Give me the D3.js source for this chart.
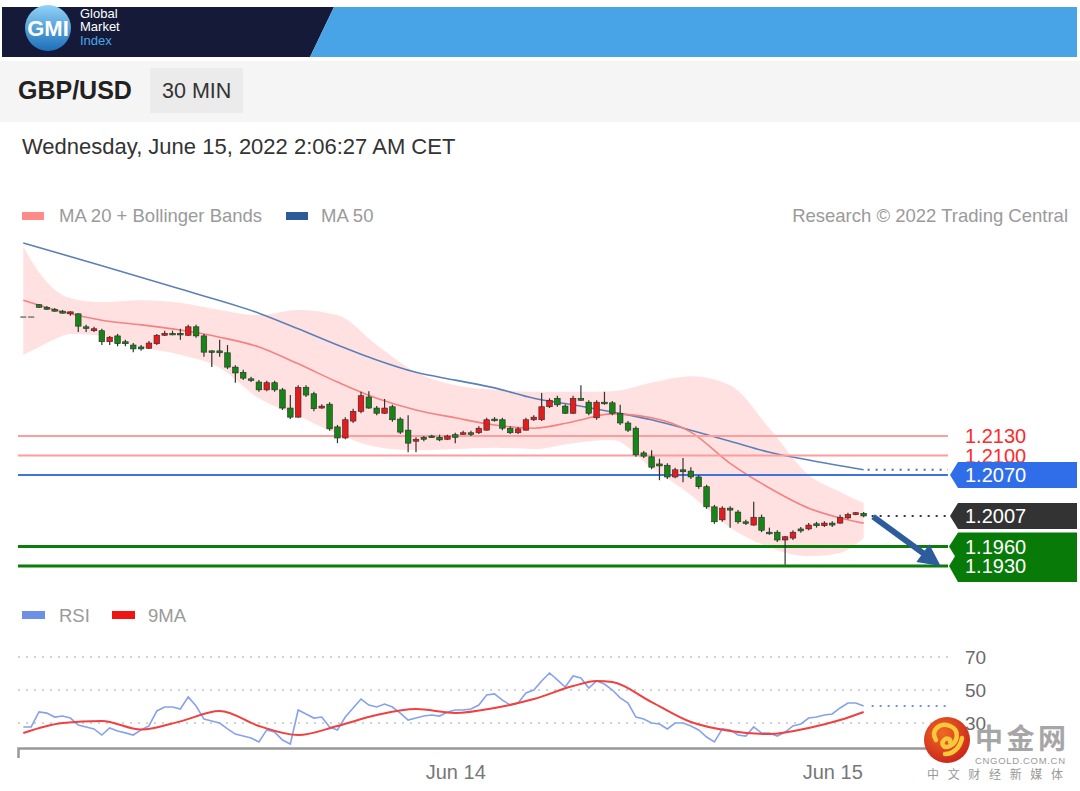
<!DOCTYPE html>
<html><head><meta charset="utf-8">
<script src="https://cdn.jsdelivr.net/npm/d3@7"></script>
<style>
body{margin:0;background:#fff;}
svg{display:block;font-family:"Liberation Sans",Arial,sans-serif;}
</style></head><body>
<svg id="c" width="1080" height="791"></svg>
<script>
// ---------- DATA ----------
const candleOpen = [1.2313,1.2313,
1.2332,1.2328,1.2325,1.2322,1.2318,1.2318,1.2298,1.2292,1.2292,1.2275,
1.2284,1.2275,1.2270,1.2267,1.2265,1.2272,1.2285,1.2288,1.2288,1.2285,
1.2298,1.2284,1.2261,1.2261,1.2258,1.2236,1.2228,1.2218,1.2213,1.2201,
1.2212,1.2201,1.2173,1.2159,1.2205,1.2195,1.2173,1.2179,1.2144,1.2127,
1.2153,1.2168,1.2190,1.2173,1.2165,1.2175,1.2156,1.2139,1.2122,1.2128,
1.2130,1.2128,1.2125,1.2132,1.2133,1.2135,1.2135,1.2139,1.2156,1.2155,
1.2142,1.2135,1.2139,1.2155,1.2155,1.2175,1.2188,1.2176,1.2165,1.2188,
1.2182,1.2158,1.2182,1.2181,1.2165,1.2150,1.2142,1.2104,1.2098,1.2087,
1.2085,1.2067,1.2078,1.2076,1.2067,1.2052,1.2021,1.2001,1.2019,1.2013,
1.1998,1.1993,1.2005,1.1982,1.1982,1.1970,1.1973,1.1987,1.1987,1.1995,
1.1992,1.1996,1.1996,1.2004,1.2009,1.2011];
const candleClose = [1.2313,1.2313,
1.2328,1.2325,1.2322,1.2319,1.2321,1.2299,1.2296,1.2295,1.2275,1.2282,
1.2272,1.2272,1.2264,1.2264,1.2273,1.2285,1.2288,1.2287,1.2287,1.2298,
1.2284,1.2259,1.2259,1.2258,1.2236,1.2227,1.2219,1.2216,1.2201,1.2212,
1.2201,1.2173,1.2159,1.2205,1.2193,1.2172,1.2176,1.2141,1.2127,1.2155,
1.2168,1.2192,1.2173,1.2165,1.2173,1.2155,1.2136,1.2119,1.2125,1.2125,
1.2128,1.2124,1.2130,1.2128,1.2135,1.2133,1.2142,1.2155,1.2155,1.2142,
1.2135,1.2141,1.2155,1.2159,1.2175,1.2185,1.2178,1.2165,1.2188,1.2185,
1.2165,1.2182,1.2181,1.2165,1.2150,1.2139,1.2101,1.2099,1.2082,1.2084,
1.2067,1.2078,1.2075,1.2067,1.2052,1.2021,1.1998,1.2019,1.2016,1.1998,
1.1996,1.2005,1.1985,1.1981,1.1970,1.1975,1.1982,1.1984,1.1993,1.1992,
1.1996,1.1993,1.2005,1.2009,1.2012,1.2007];
const candleHigh = [1.2313,1.2313,
1.2333,1.2330,1.2327,1.2324,1.2322,1.2319,1.2301,1.2298,1.2295,1.2284,
1.2287,1.2278,1.2273,1.2270,1.2276,1.2287,1.2292,1.2292,1.2295,1.2301,
1.2301,1.2287,1.2262,1.2278,1.2270,1.2239,1.2232,1.2221,1.2216,1.2215,
1.2215,1.2204,1.2193,1.2208,1.2208,1.2198,1.2179,1.2182,1.2147,1.2159,
1.2172,1.2198,1.2199,1.2176,1.2187,1.2178,1.2159,1.2162,1.2128,1.2130,
1.2132,1.2132,1.2132,1.2135,1.2138,1.2138,1.2145,1.2158,1.2159,1.2158,
1.2145,1.2144,1.2158,1.2162,1.2196,1.2188,1.2192,1.2179,1.2192,1.2208,
1.2185,1.2185,1.2198,1.2184,1.2178,1.2153,1.2145,1.2107,1.2108,1.2095,
1.2088,1.2081,1.2096,1.2082,1.2070,1.2055,1.2024,1.2022,1.2022,1.2016,
1.2001,1.2029,1.2009,1.1989,1.1985,1.1976,1.1985,1.1990,1.1996,1.1998,
1.1999,1.1999,1.2009,1.2012,1.2013,1.2013];
const candleLow = [1.2313,1.2313,
1.2327,1.2324,1.2321,1.2318,1.2315,1.2290,1.2290,1.2290,1.2270,1.2270,
1.2268,1.2268,1.2259,1.2261,1.2264,1.2270,1.2284,1.2285,1.2278,1.2284,
1.2281,1.2252,1.2236,1.2252,1.2233,1.2212,1.2216,1.2213,1.2198,1.2199,
1.2198,1.2170,1.2156,1.2158,1.2190,1.2168,1.2172,1.2138,1.2119,1.2125,
1.2150,1.2165,1.2172,1.2162,1.2164,1.2152,1.2133,1.2105,1.2105,1.2122,
1.2127,1.2122,1.2124,1.2119,1.2132,1.2130,1.2133,1.2138,1.2152,1.2139,
1.2133,1.2133,1.2138,1.2153,1.2153,1.2173,1.2175,1.2164,1.2164,1.2184,
1.2162,1.2155,1.2178,1.2162,1.2147,1.2136,1.2098,1.2096,1.2079,1.2062,
1.2064,1.2065,1.2059,1.2064,1.2049,1.2018,1.1995,1.1998,1.1989,1.1995,
1.1993,1.1992,1.1982,1.1978,1.1967,1.1932,1.1970,1.1981,1.1985,1.1989,
1.1990,1.1990,1.1995,1.2002,1.2008,1.2005];

// indicator samples (bar index -> value)
const bandIdx   = [0,2,4,6,10,15,20,25,30,35,40,45,50,55,60,65,70,75,80,85,90,95,100,104,107];
const bandUpper = [1.2421,1.2382,1.2355,1.2342,1.2336,1.2339,1.2335,1.2324,1.2316,1.2324,1.2316,1.2270,1.2228,1.2208,1.2201,1.2198,1.2198,1.2199,1.2212,1.2222,1.2208,1.2142,1.2070,1.2044,1.2027];
const bandLower = [1.2255,1.2267,1.2279,1.2287,1.2284,1.2267,1.2255,1.2235,1.2188,1.2161,1.2133,1.2113,1.2108,1.2110,1.2112,1.2110,1.2119,1.2124,1.2081,1.2039,1.1989,1.1959,1.1945,1.1950,1.1973];
const ma20Idx = [0,5,10,15,20,25,30,35,40,45,50,55,60,65,70,75,80,85,90,95,100,104,107];
const ma20    = [1.2339,1.2321,1.2308,1.2301,1.2293,1.2282,1.2267,1.2241,1.2213,1.2188,1.2170,1.2158,1.2147,1.2142,1.2152,1.2164,1.2158,1.2136,1.2088,1.2050,1.2019,1.2004,1.1996];
const ma50Idx = [0,10,20,30,35,40,45,50,55,60,65,70,75,80,85,90,95,100,107];
const ma50    = [1.2427,1.2392,1.2356,1.2319,1.2295,1.2270,1.2247,1.2228,1.2216,1.2204,1.2188,1.2178,1.2167,1.2155,1.2139,1.2122,1.2105,1.2093,1.2078];

const rsi = [27.6,27.6,36.7,36,33.6,34.2,33,28.8,27.6,26.4,
22.7,27,25.2,24,22.7,25.8,28.2,37.3,39.7,39.7,
38.5,45.8,40.3,32.4,31.2,30,26.4,23.3,22.1,20.9,
18.5,25.8,24.5,19.7,17.3,37.9,35.5,33,33.6,27.6,
25.8,33.6,39.1,44.5,40.9,39.7,41.5,39.7,36,31.8,
33,34.2,34.8,34.2,36.7,37.9,37.9,38.5,40.9,47,
47.6,43.9,40.9,42.1,48.2,50,55.5,60.3,56.1,51.8,
58.5,57.3,51.2,55.5,53.6,50,45.2,42.1,33.6,32.4,
30,29.4,26.4,30,30,28.2,25.8,21.5,18.5,26.4,
25.8,22.7,22.1,27.6,23.9,23.9,22.1,24.5,28.2,29.4,
33,33.6,34.8,35.5,39.1,42.1,42.1,40.3];
const ma9Idx = [0,5,10,15,20,25,30,35,40,45,50,55,60,65,70,73,75,80,85,90,95,100,104,107];
const ma9    = [23.9,30,31.2,26,31,37.3,28.2,22.7,28.2,34.8,38.5,36.1,39.1,44.5,52.4,55.5,54.8,42.7,30.6,25.2,23.3,27,31.8,36.7];

const resistLevels = [1.2130, 1.2100];
const ma50Level = 1.2070;
const lastPrice = 1.2007;
const supportLevels = [1.1960, 1.1930];
const rsiLevels = [70, 50, 30];
const tickIdx = [55, 103];
const tickLabels = ["Jun 14", "Jun 15"];
const arrowFrom = [108.2, 1.2006];
const arrowTo = [116.8, 1.1930];

// ---------- SCALES ----------
const svg = d3.select("#c");
const x = d3.scaleLinear().domain([-0.675, 117.74]).range([18, 948]);
const y = d3.scaleLinear().domain([1.1930, 1.2130]).range([566, 436]);
const yr = d3.scaleLinear().domain([30, 70]).range([723, 657]);
const L = 18, R = 948;

const defs = svg.append("defs");
const g1 = defs.append("linearGradient").attr("id","gmi").attr("x1",0).attr("y1",0).attr("x2",0).attr("y2",1);
g1.append("stop").attr("offset","0").attr("stop-color","#8fd3f6");
g1.append("stop").attr("offset","1").attr("stop-color","#1c6fba");
const g2 = defs.append("radialGradient").attr("id","cng").attr("cx","0.4").attr("cy","0.35").attr("r","0.7");
g2.append("stop").attr("offset","0").attr("stop-color","#f06a22");
g2.append("stop").attr("offset","1").attr("stop-color","#c9231b");

// ---------- HEADER ----------
svg.append("polygon").attr("points","2,7 334,7 310,57 2,57").attr("fill","#141a38");
svg.append("polygon").attr("points","334,7 1077,7 1077,57 310,57").attr("fill","#48a4e6");
svg.append("circle").attr("cx",48).attr("cy",28).attr("r",23).attr("fill","url(#gmi)");
svg.append("text").attr("x",48).attr("y",36).attr("text-anchor","middle").attr("fill","#fff")
  .attr("font-weight","bold").attr("font-size",22).text("GMI");
[["Global","#fff",18],["Market","#fff",31],["Index","#4aa8e8",45]].forEach(d=>{
  svg.append("text").attr("x",80).attr("y",d[2]).attr("fill",d[1]).attr("font-size",13).text(d[0]);
});
svg.append("rect").attr("x",0).attr("y",61).attr("width",1080).attr("height",61).attr("fill","#f5f5f5");
svg.append("rect").attr("x",150).attr("y",68).attr("width",93).attr("height",45).attr("fill","#ebebeb");
svg.append("text").attr("x",18).attr("y",99).attr("font-size",25).attr("font-weight","bold").attr("fill","#222").text("GBP/USD");
svg.append("text").attr("x",162).attr("y",98).attr("font-size",21.5).attr("fill","#333").text("30 MIN");
svg.append("text").attr("x",22).attr("y",154).attr("font-size",22).attr("fill","#333").text("Wednesday, June 15, 2022 2:06:27 AM CET");

// legend
svg.append("rect").attr("x",22).attr("y",212).attr("width",22).attr("height",8).attr("fill","#ff8a8a");
svg.append("text").attr("x",59).attr("y",222).attr("font-size",18.5).attr("fill","#9a9a9a").text("MA 20 + Bollinger Bands");
svg.append("rect").attr("x",286).attr("y",212).attr("width",22).attr("height",8).attr("fill","#2d5a9a");
svg.append("text").attr("x",321).attr("y",222).attr("font-size",18.5).attr("fill","#9a9a9a").text("MA 50");
svg.append("text").attr("x",1068).attr("y",222).attr("text-anchor","end").attr("font-size",18.5).attr("fill","#9a9a9a").text("Research © 2022 Trading Central");

// ---------- PRICE PANEL ----------
const area = d3.area().x((d,i)=>x(bandIdx[i])).y0((d,i)=>y(bandLower[i])).y1((d,i)=>y(bandUpper[i])).curve(d3.curveMonotoneX);
svg.append("path").datum(bandIdx).attr("d",area).attr("fill","#ffdcdc").attr("opacity",0.85);

const line = (idx, vals, ys) => d3.line().x((d,i)=>x(idx[i])).y((d,i)=>ys(vals[i])).curve(d3.curveMonotoneX)(idx);
svg.append("path").attr("d",line(ma50Idx,ma50,y)).attr("fill","none").attr("stroke","#5b80b8").attr("stroke-width",1.6);
svg.append("path").attr("d",line(ma20Idx,ma20,y)).attr("fill","none").attr("stroke","#f48282").attr("stroke-width",1.6);

// level lines
resistLevels.forEach(v=>{
  svg.append("line").attr("x1",L).attr("x2",R).attr("y1",y(v)).attr("y2",y(v)).attr("stroke","#ff9c9c").attr("stroke-width",2);
});
svg.append("line").attr("x1",L).attr("x2",R).attr("y1",y(ma50Level)).attr("y2",y(ma50Level)).attr("stroke","#3d74e0").attr("stroke-width",2);
supportLevels.forEach(v=>{
  svg.append("line").attr("x1",L).attr("x2",R).attr("y1",y(v)).attr("y2",y(v)).attr("stroke","#0b7d0b").attr("stroke-width",3);
});

// dotted extensions
const lastK = candleClose.length - 1;
svg.append("line").attr("x1",x(lastK)+4).attr("x2",R).attr("y1",y(ma50[ma50.length-1])).attr("y2",y(ma50[ma50.length-1]))
  .attr("stroke","#4a6fb0").attr("stroke-width",2).attr("stroke-dasharray","2,6");
svg.append("line").attr("x1",x(lastK)+8).attr("x2",R).attr("y1",y(lastPrice)).attr("y2",y(lastPrice))
  .attr("stroke","#333").attr("stroke-width",2).attr("stroke-dasharray","2,6");

// candles
const cg = svg.append("g");
candleClose.forEach((c,i)=>{
  const o = candleOpen[i], h = candleHigh[i], l = candleLow[i];
  const cx = x(i);
  if (h === l) {
    cg.append("line").attr("x1",cx-3).attr("x2",cx+3).attr("y1",y(c)).attr("y2",y(c)).attr("stroke","#777").attr("stroke-width",1.5);
    return;
  }
  const up = c >= o;
  cg.append("line").attr("x1",cx).attr("x2",cx).attr("y1",y(h)).attr("y2",y(l)).attr("stroke","#333").attr("stroke-width",1.2);
  const top = y(Math.max(o,c)), bot = y(Math.min(o,c));
  cg.append("rect").attr("x",cx-2.8).attr("y",top).attr("width",5.6).attr("height",Math.max(bot-top,1.6))
    .attr("fill", up ? "#e51c1c" : "#178417").attr("stroke","#2a2a2a").attr("stroke-width",0.6);
});

// right labels
resistLevels.forEach(v=>{
  svg.append("text").attr("x",965).attr("y",y(v)+7).attr("font-size",20).attr("fill","#ff2a2a").text(v.toFixed(4));
});
function tag(v, color){
  const yy = y(v);
  svg.append("path").attr("d",`M950,${yy} L958,${yy-13} L1077,${yy-13} L1077,${yy+13} L958,${yy+13} Z`).attr("fill",color);
  svg.append("text").attr("x",965).attr("y",yy+7).attr("font-size",20).attr("fill","#fff").text(v.toFixed(4));
}
tag(ma50Level, "#2f6ee8");
tag(lastPrice, "#333333");
{
  const y1 = y(supportLevels[0]), y2 = y(supportLevels[1]);
  const top = y1-14, bot = y2+16, mid = (y1+y2)/2;
  svg.append("path").attr("d",`M958,${top} L1077,${top} L1077,${bot} L958,${bot} L949,${y2} L955,${mid} L949,${y1} Z`).attr("fill","#077a07");
  supportLevels.forEach(v=>{
    svg.append("text").attr("x",965).attr("y",y(v)+7).attr("font-size",20).attr("fill","#fff").text(v.toFixed(4));
  });
}

// arrow
{
  const sx = x(arrowFrom[0]), sy = y(arrowFrom[1]), tx = x(arrowTo[0]), ty = y(arrowTo[1]);
  const dx = tx-sx, dy = ty-sy, len = Math.hypot(dx,dy), ux = dx/len, uy = dy/len, nx = -uy, ny = ux;
  const bx = tx - 22*ux, by = ty - 22*uy;
  svg.append("line").attr("x1",sx).attr("y1",sy).attr("x2",bx+2*ux).attr("y2",by+2*uy).attr("stroke","#2c5c9c").attr("stroke-width",6);
  svg.append("polygon").attr("points",`${tx},${ty} ${bx+11*nx},${by+11*ny} ${bx-11*nx},${by-11*ny}`).attr("fill","#2c5c9c");
}

// ---------- RSI PANEL ----------
svg.append("rect").attr("x",22).attr("y",611).attr("width",23).attr("height",8).attr("fill","#6d8fe6");
svg.append("text").attr("x",59).attr("y",622).attr("font-size",18.5).attr("fill","#9a9a9a").text("RSI");
svg.append("rect").attr("x",112).attr("y",611).attr("width",23).attr("height",8).attr("fill","#f01515");
svg.append("text").attr("x",148).attr("y",622).attr("font-size",18.5).attr("fill","#9a9a9a").text("9MA");

rsiLevels.forEach(v=>{
  svg.append("line").attr("x1",L).attr("x2",R).attr("y1",yr(v)).attr("y2",yr(v)).attr("stroke","#c4c4c4").attr("stroke-width",1.6).attr("stroke-dasharray","2,6");
  svg.append("text").attr("x",965).attr("y",yr(v)+7).attr("font-size",19).attr("fill","#6a6a6a").text(v);
});
svg.append("path").attr("d",d3.line().x((d,i)=>x(i)).y(d=>yr(d))(rsi)).attr("fill","none").attr("stroke","#86a2ec").attr("stroke-width",1.6);
svg.append("path").attr("d",line(ma9Idx,ma9,yr)).attr("fill","none").attr("stroke","#f04040").attr("stroke-width",2);
svg.append("line").attr("x1",x(lastK)+8).attr("x2",R).attr("y1",yr(rsi[lastK])).attr("y2",yr(rsi[lastK]))
  .attr("stroke","#6f93ea").attr("stroke-width",2).attr("stroke-dasharray","2,6");

// axis
const ax = svg.append("g").attr("transform","translate(0,748)")
  .call(d3.axisBottom(x).tickValues(tickIdx).tickFormat((d,i)=>tickLabels[i]).tickSizeInner(0).tickSizeOuter(10).tickPadding(17));
ax.select(".domain").attr("stroke","#999").attr("stroke-width",2.5);
ax.selectAll("text").attr("font-size",20).attr("fill","#777").attr("font-family","Liberation Sans, Arial, sans-serif");

// ---------- WATERMARK ----------
svg.append("circle").attr("cx",947).attr("cy",740).attr("r",23).attr("fill","url(#cng)");
svg.append("path").attr("d","M936,740 C930,730 940,722 950,726 C960,730 958,742 950,746 C944,749 940,744 944,740 C947,737 951,739 950,742 M945,754 C953,754 960,748 962,738")
  .attr("fill","none").attr("stroke","#f8c93a").attr("stroke-width",4.5).attr("stroke-linecap","round");
svg.append("text").attr("x",975).attr("y",749).attr("font-size",28).attr("font-weight","bold").attr("fill","#a6a6a6")
  .attr("font-family","Noto Sans CJK SC").attr("textLength",91).text("中金网");
svg.append("text").attr("x",975).attr("y",764).attr("font-size",9.5).attr("fill","#999").attr("textLength",90).text("CNGOLD.COM.CN");
svg.append("text").attr("x",927).attr("y",779).attr("font-size",12).attr("fill","#999")
  .attr("font-family","Noto Sans CJK SC").attr("textLength",136).text("中文财经新媒体");
</script>
</body></html>
